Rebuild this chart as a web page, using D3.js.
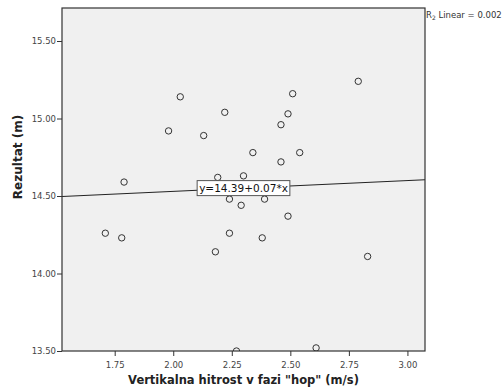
<!DOCTYPE html>
<html>
<head>
<meta charset="utf-8">
<script src="https://cdnjs.cloudflare.com/ajax/libs/d3/7.8.5/d3.min.js"></script>
<style>
  body { margin: 0; background: #fff; }
  svg { font-family: "DejaVu Sans", Verdana, sans-serif; }
</style>
</head>
<body>
<div id="chart"></div>
<script>
// vertical speed in "hop" phase (m/s)
const hitrost = [2.03, 2.22, 1.98, 2.13, 2.34, 1.79, 2.19, 2.30, 2.24, 2.29, 2.39, 2.54, 2.46,
  2.49, 2.24, 2.38, 2.18, 2.83, 1.71, 1.78, 2.27, 2.61, 2.79, 2.51, 2.49, 2.46];
// result (m)
const rezultat = [15.14, 15.04, 14.92, 14.89, 14.78, 14.59, 14.62, 14.63, 14.48, 14.44, 14.48, 14.78, 14.72,
  14.37, 14.26, 14.23, 14.14, 14.11, 14.26, 14.23, 13.50, 13.52, 15.24, 15.16, 15.03, 14.96];
const xTicks = [1.75, 2.00, 2.25, 2.50, 2.75, 3.00];
const yTicks = [13.50, 14.00, 14.50, 15.00, 15.50];
const intercept = 14.39, slope = 0.07;
const fitLabel = "y=14.39+0.07*x";
const labelAtX = 2.30;

const W = 504, H = 392;
const margin = {left: 62, top: 8, right: 79, bottom: 41};

const svg = d3.select("#chart").append("svg")
  .attr("width", W).attr("height", H);

const x = d3.scaleLinear().domain([1.525, 3.075]).range([margin.left, W - margin.right]);
const y = d3.scaleLinear().domain([13.5, 15.713]).range([H - margin.bottom, margin.top]);

// plot background
svg.append("rect")
  .attr("x", x.range()[0]).attr("y", y.range()[1])
  .attr("width", x.range()[1] - x.range()[0])
  .attr("height", y.range()[0] - y.range()[1])
  .attr("fill", "#f0f0f0");

svg.append("defs").append("clipPath").attr("id", "clip")
  .append("rect")
  .attr("x", x.range()[0]).attr("y", y.range()[1])
  .attr("width", x.range()[1] - x.range()[0])
  .attr("height", y.range()[0] - y.range()[1]);

// axes
const xAxis = svg.append("g")
  .attr("transform", "translate(0," + y.range()[0] + ")")
  .call(d3.axisBottom(x).tickValues(xTicks).tickFormat(d3.format(".2f")).tickSize(5).tickSizeOuter(0));
const yAxis = svg.append("g")
  .attr("transform", "translate(" + x.range()[0] + ",0)")
  .call(d3.axisLeft(y).tickValues(yTicks).tickFormat(d3.format(".2f")).tickSize(5).tickSizeOuter(0));

[xAxis, yAxis].forEach(a => {
  a.select(".domain").remove();
  a.selectAll("line").attr("stroke", "#333");
  a.selectAll("text").attr("fill", "#444").style("font-size", "8.5px")
    .style("font-family", "DejaVu Sans, sans-serif");
});
xAxis.selectAll("text").attr("dy", "1.1em");
yAxis.selectAll("text").attr("x", -6);

// regression line
const plot = svg.append("g").attr("clip-path", "url(#clip)");
plot.append("line")
  .attr("x1", x(x.domain()[0])).attr("y1", y(intercept + slope * x.domain()[0]))
  .attr("x2", x(x.domain()[1])).attr("y2", y(intercept + slope * x.domain()[1]))
  .attr("stroke", "#222").attr("stroke-width", 1.1);

// points
plot.selectAll("circle")
  .data(hitrost.map((d, i) => [d, rezultat[i]]))
  .enter()
  .append("circle")
  .attr("cx", d => x(d[0]))
  .attr("cy", d => y(d[1]))
  .attr("r", 3.2)
  .attr("fill", "none")
  .attr("stroke", "#333")
  .attr("stroke-width", 1);

// plot border
svg.append("rect")
  .attr("x", x.range()[0]).attr("y", y.range()[1])
  .attr("width", x.range()[1] - x.range()[0])
  .attr("height", y.range()[0] - y.range()[1])
  .attr("fill", "none").attr("stroke", "#333").attr("stroke-width", 1.2);

// equation label on the line
const lx = x(labelAtX), ly = y(intercept + slope * labelAtX);
const lab = svg.append("g");
const labText = lab.append("text")
  .attr("x", lx).attr("y", ly + 4)
  .attr("text-anchor", "middle")
  .style("font-size", "10.5px")
  .attr("fill", "#111")
  .text(fitLabel);
const bb = labText.node().getBBox();
lab.insert("rect", "text")
  .attr("x", bb.x - 2).attr("y", ly - 7.5)
  .attr("width", bb.width + 4).attr("height", 15)
  .attr("fill", "#fff").attr("stroke", "#555");

// R² note
const r2 = svg.append("text")
  .attr("x", x.range()[1] + 1).attr("y", 18)
  .style("font-size", "8.5px").attr("fill", "#333");
r2.append("tspan").text("R");
r2.append("tspan").attr("dy", 2).style("font-size", "6px").text("2");
r2.append("tspan").attr("dy", -2).text(" Linear = 0.002");

// axis titles
svg.append("text")
  .attr("x", (x.range()[0] + x.range()[1]) / 2).attr("y", 384)
  .attr("text-anchor", "middle")
  .style("font-size", "11.5px").style("font-weight", "bold").attr("fill", "#222")
  .text('Vertikalna hitrost v fazi "hop" (m/s)');

svg.append("text")
  .attr("transform", "translate(22,157) rotate(-90)")
  .attr("text-anchor", "middle")
  .style("font-size", "12px").style("font-weight", "bold").attr("fill", "#222")
  .text("Rezultat (m)");
</script>
</body>
</html>
